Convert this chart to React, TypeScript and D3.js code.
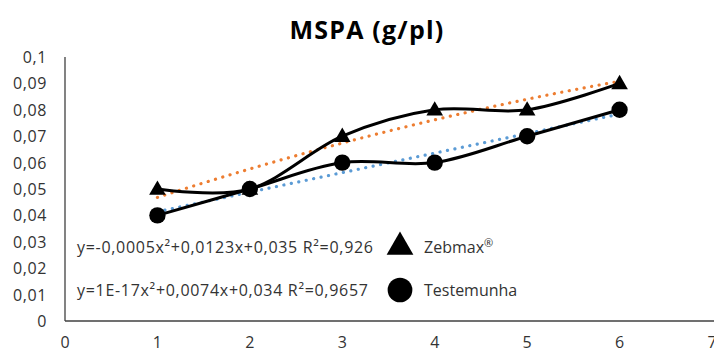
import React, { useEffect, useRef } from "react";
import * as d3 from "d3";

// MSPA (g/pl) por dose
const doses = [1, 2, 3, 4, 5, 6];
const zebmax = [0.05, 0.05, 0.07, 0.08, 0.08, 0.09];
const testemunha = [0.04, 0.05, 0.06, 0.06, 0.07, 0.08];

// polynomial trendline coefficients [a, b, c] for a*x^2 + b*x + c
const zebmaxTrend = [-0.0005, 0.0123, 0.035];
const testemunhaTrend = [1e-17, 0.0074, 0.034];

const yTicks = [0, 0.01, 0.02, 0.03, 0.04, 0.05, 0.06, 0.07, 0.08, 0.09, 0.1];
const xTicks = [0, 1, 2, 3, 4, 5, 6, 7];

const legendLabels = [
  { eq: "y=-0,0005x²+0,0123x+0,035 R²=0,926", name: "Zebmax", marker: "triangle" },
  { eq: "y=1E-17x²+0,0074x+0,034 R²=0,9657", name: "Testemunha", marker: "circle" },
];

const width = 714;
const height = 353;
const margin = { top: 57, right: 2, bottom: 32, left: 65 };
const font = "'Open Sans', 'Liberation Sans', sans-serif";

const App: React.FC = () => {
  const svgRef = useRef<SVGSVGElement>(null);

  useEffect(() => {
    if (!svgRef.current) return;
    d3.select(svgRef.current).selectAll("*").remove();

    const svg = d3.select(svgRef.current).attr("width", width).attr("height", height);

    const x = d3.scaleLinear().domain([0, 7]).range([margin.left, 712]);
    const y = d3.scaleLinear().domain([0, 0.1]).range([height - margin.bottom, margin.top]);

    // Title
    svg
      .append("text")
      .attr("x", 367)
      .attr("y", 39)
      .attr("text-anchor", "middle")
      .style("font-family", font)
      .style("font-size", "25px")
      .style("font-weight", "bold")
      .style("letter-spacing", "1.2px")
      .attr("fill", "#000")
      .text("MSPA (g/pl)");

    // Axes lines
    svg
      .append("line")
      .attr("x1", x(0))
      .attr("x2", x(0))
      .attr("y1", y(0.1))
      .attr("y2", y(0))
      .attr("stroke", "#404040")
      .attr("stroke-width", 1.3);
    svg
      .append("line")
      .attr("x1", x(0))
      .attr("x2", width)
      .attr("y1", y(0))
      .attr("y2", y(0))
      .attr("stroke", "#404040")
      .attr("stroke-width", 1.3);

    // Tick labels
    const fmt = (v: number) => d3.format("~g")(+v.toFixed(2)).replace(".", ",");
    svg
      .selectAll(".ytick")
      .data(yTicks)
      .join("text")
      .attr("x", 47)
      .attr("y", (d) => y(d) + 6)
      .attr("text-anchor", "end")
      .style("font-family", font)
      .style("font-size", "16px")
      .style("letter-spacing", "0.6px")
      .attr("fill", "#333")
      .text((d) => fmt(d));

    svg
      .selectAll(".xtick")
      .data(xTicks)
      .join("text")
      .attr("x", (d) => x(d))
      .attr("y", 348)
      .attr("text-anchor", "middle")
      .style("font-family", font)
      .style("font-size", "16px")
      .attr("fill", "#333")
      .text((d) => String(d));

    // Trendlines
    const trendLine = (coef: number[]) =>
      d3.range(1, 6.001, 0.05).map((v) => [v, coef[0] * v * v + coef[1] * v + coef[2]] as [number, number]);
    const lineGen = d3
      .line<[number, number]>()
      .x((d) => x(d[0]))
      .y((d) => y(d[1]));

    const trends: [number[], string][] = [
      [zebmaxTrend, "#ED7D31"],
      [testemunhaTrend, "#5B9BD5"],
    ];
    trends.forEach(([coef, color]) => {
      svg
        .append("path")
        .attr("d", lineGen(trendLine(coef)))
        .attr("fill", "none")
        .attr("stroke", color)
        .attr("stroke-width", 3.2)
        .attr("stroke-linecap", "round")
        .attr("stroke-dasharray", "0.1 7.5");
    });

    // Smoothed series
    const smooth = d3
      .line<[number, number]>()
      .x((d) => x(d[0]))
      .y((d) => y(d[1]))
      .curve(d3.curveCardinal.tension(0));

    const seriesData: [number[], string][] = [
      [zebmax, "triangle"],
      [testemunha, "circle"],
    ];
    seriesData.forEach(([vals, marker]) => {
      const pts = doses.map((d, i) => [d, vals[i]] as [number, number]);
      svg
        .append("path")
        .attr("d", smooth(pts))
        .attr("fill", "none")
        .attr("stroke", "#000")
        .attr("stroke-width", 3);
      const sym = d3
        .symbol()
        .type(marker === "triangle" ? d3.symbolTriangle : d3.symbolCircle)
        .size(marker === "triangle" ? 120 : 210);
      svg
        .selectAll(`.m-${marker}`)
        .data(pts)
        .join("path")
        .attr("d", sym() as string)
        .attr("transform", (d) => `translate(${x(d[0])},${y(d[1]) + (marker === "triangle" ? 1 : 0)})`)
        .attr("fill", "#000");
    });

    // Legend
    const legend = svg
      .selectAll(".legend")
      .data(legendLabels)
      .join("g")
      .attr("transform", (d, i) => `translate(0, ${253 + i * 43})`);
    legend
      .append("text")
      .attr("x", 77)
      .attr("y", 0)
      .style("font-family", font)
      .style("font-size", "16px")
      .style("letter-spacing", "0.7px")
      .attr("fill", "#333")
      .text((d) => d.eq);
    legend
      .append("path")
      .attr("d", (d) =>
        d3
          .symbol()
          .type(d.marker === "triangle" ? d3.symbolTriangle : d3.symbolCircle)
          .size(d.marker === "triangle" ? 310 : 480)() as string
      )
      .attr("transform", (d) => `translate(400, -6)`)
      .attr("fill", "#000");
    const names = legend
      .append("text")
      .attr("x", 424)
      .attr("y", 0)
      .style("font-family", font)
      .style("font-size", "16px")
      .attr("fill", "#333")
      .text((d) => d.name);
    names
      .filter((d) => d.marker === "triangle")
      .append("tspan")
      .attr("dy", -6)
      .style("font-size", "11px")
      .text("®");
  }, []);

  return (
    <svg
      ref={svgRef}
      style={{ position: "absolute", left: 0, top: 0, background: "#fff" }}
    ></svg>
  );
};

export default App;
